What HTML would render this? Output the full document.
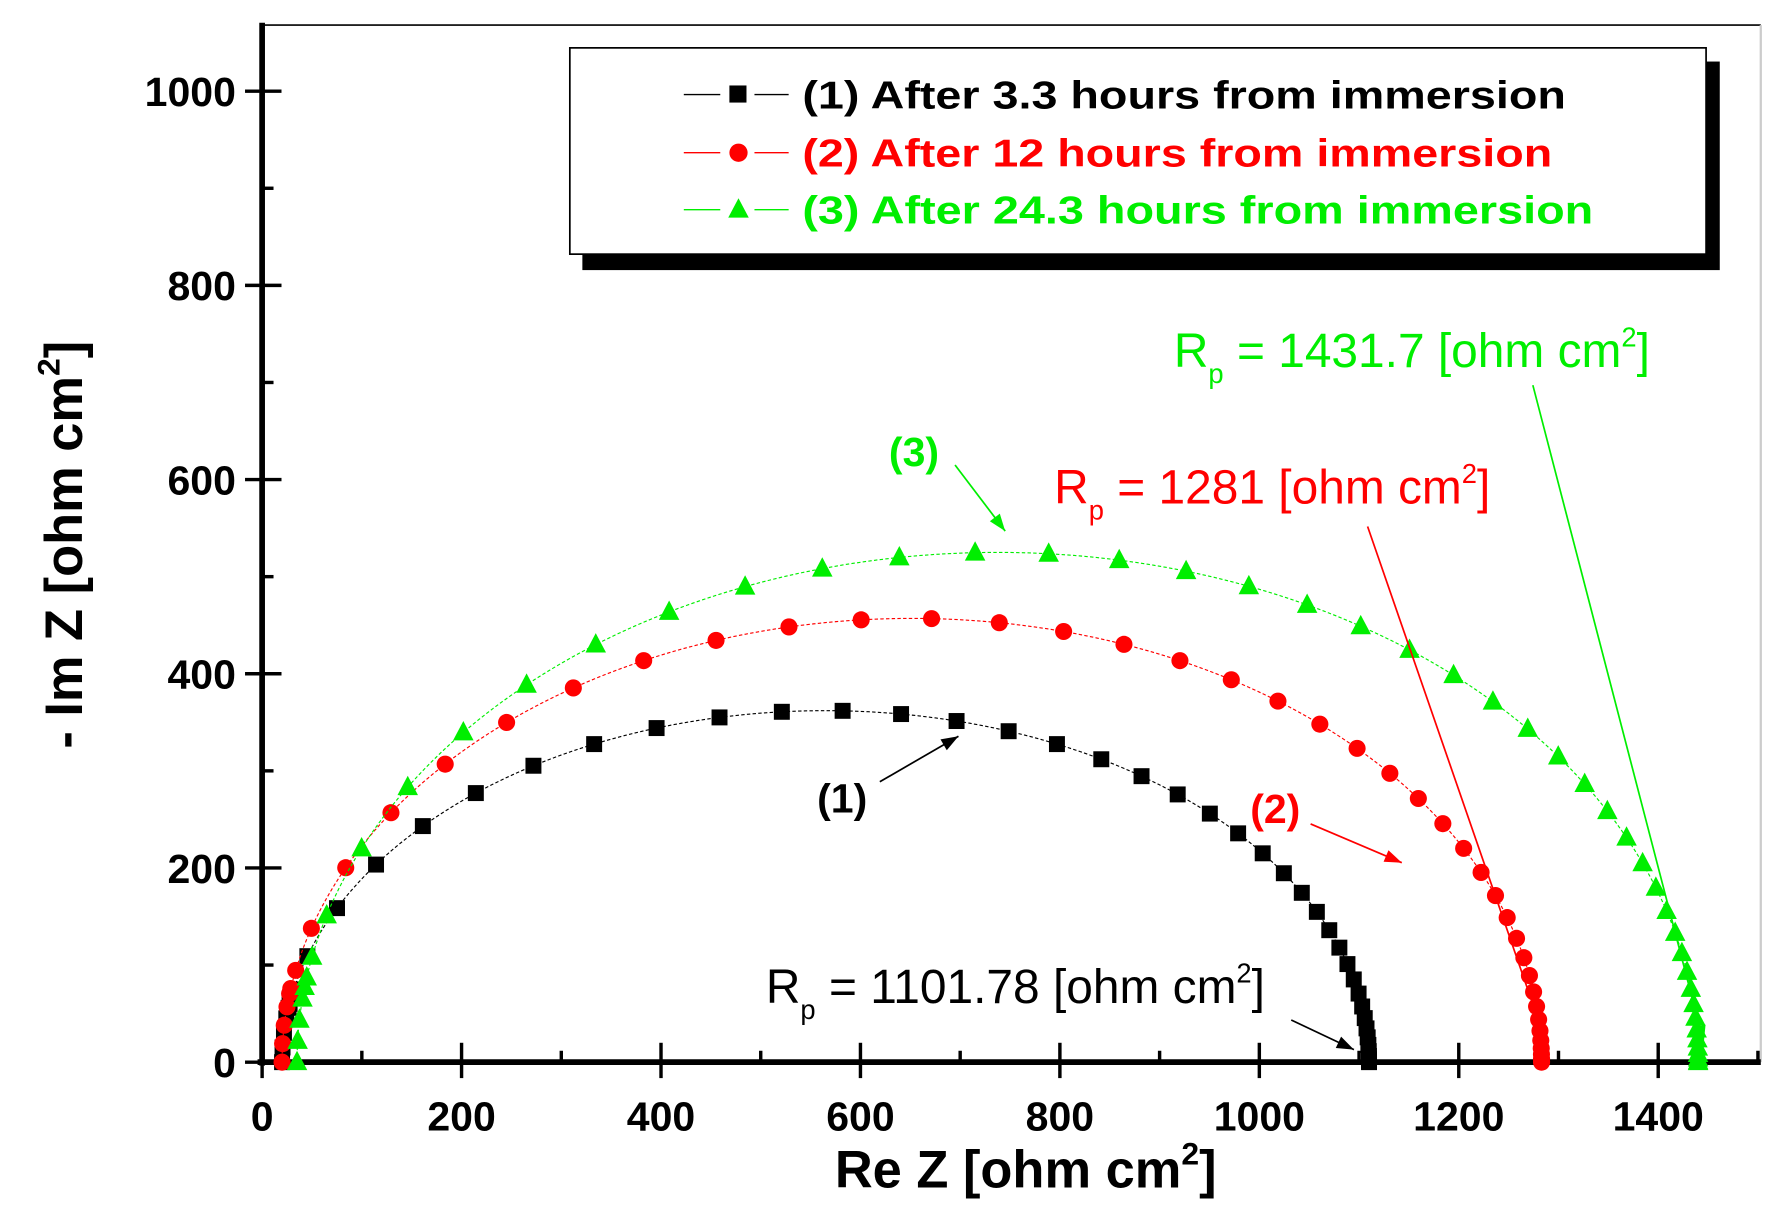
<!DOCTYPE html>
<html><head><meta charset="utf-8"><style>
html,body{margin:0;padding:0;background:#fff;}
svg{display:block;}
text{font-family:"Liberation Sans",Arial,sans-serif;}
</style></head><body>
<svg id="s" width="1787" height="1216" viewBox="0 0 1568 1067" preserveAspectRatio="none" xmlns="http://www.w3.org/2000/svg">
<rect width="1568" height="1067" fill="#fff"/>
<line x1="230" y1="22" x2="1545" y2="22" stroke="#000" stroke-width="1.5"/>
<line x1="1545" y1="22" x2="1545" y2="932" stroke="#ccc" stroke-width="2"/>
<g id="axes"></g>
<g id="data"></g>
<!-- legend -->
<rect x="511" y="54" width="998" height="183" fill="#000"/>
<rect x="500" y="42" width="997" height="181" fill="#fff" stroke="#000" stroke-width="1.5"/>
<g font-size="34" font-weight="bold">
<line x1="600" y1="83" x2="632" y2="83" stroke="#000" stroke-width="1.2"/><line x1="662" y1="83" x2="692" y2="83" stroke="#000" stroke-width="1.2"/><rect x="640" y="75" width="15" height="15" fill="#000"/>
<text x="704" y="95" fill="#000" textLength="670" lengthAdjust="spacingAndGlyphs">(1) After 3.3 hours from immersion</text>
<line x1="600" y1="134" x2="632" y2="134" stroke="#f00" stroke-width="1.2"/><line x1="662" y1="134" x2="692" y2="134" stroke="#f00" stroke-width="1.2"/><circle cx="648" cy="134" r="8" fill="#f00"/>
<text x="704" y="146" fill="#f00" textLength="658" lengthAdjust="spacingAndGlyphs">(2) After 12 hours from immersion</text>
<line x1="600" y1="184" x2="632" y2="184" stroke="#0e0" stroke-width="1.2"/><line x1="662" y1="184" x2="692" y2="184" stroke="#0e0" stroke-width="1.2"/><polygon points="648,174 639,191 657,191" fill="#0e0"/>
<text x="704" y="196" fill="#0e0" textLength="694" lengthAdjust="spacingAndGlyphs">(3) After 24.3 hours from immersion</text>
</g>
<!-- annotations -->
<g font-size="42">
<text x="1030" y="322" fill="#0e0">R<tspan font-size="24" dy="14">p</tspan><tspan dy="-14"> = 1431.7 [ohm cm</tspan><tspan font-size="24" dy="-18">2</tspan><tspan dy="18">]</tspan></text>
<text x="925" y="442" fill="#f00">R<tspan font-size="24" dy="14">p</tspan><tspan dy="-14"> = 1281 [ohm cm</tspan><tspan font-size="24" dy="-18">2</tspan><tspan dy="18">]</tspan></text>
<text x="672" y="880" fill="#000">R<tspan font-size="24" dy="14">p</tspan><tspan dy="-14"> = 1101.78 [ohm cm</tspan><tspan font-size="24" dy="-18">2</tspan><tspan dy="18">]</tspan></text>
</g>
<g font-size="36" font-weight="bold">
<text x="780" y="409" fill="#0e0">(3)</text>
<text x="717" y="713" fill="#000">(1)</text>
<text x="1097" y="722" fill="#f00">(2)</text>
</g>
<g stroke-width="1.5">
<line x1="1345" y1="338" x2="1495" y2="915" stroke="#0e0"/>
<line x1="1200" y1="462" x2="1355" y2="910" stroke="#f00"/>
<line x1="838" y1="408" x2="882" y2="466" stroke="#0e0"/>
<line x1="772" y1="686" x2="841" y2="646" stroke="#000"/>
<line x1="1150" y1="723" x2="1230" y2="757" stroke="#f00"/>
<line x1="1133" y1="895" x2="1188" y2="921" stroke="#000"/>
</g>
<g id="arrows"></g>
<!-- axis titles -->
<text x="900" y="1042" font-size="46" font-weight="bold" text-anchor="middle">Re Z [ohm cm<tspan font-size="28" dy="-20">2</tspan><tspan dy="20">]</tspan></text>
<text transform="translate(72,478) rotate(-90)" font-size="46" font-weight="bold" text-anchor="middle">- Im Z [ohm cm<tspan font-size="28" dy="-20">2</tspan><tspan dy="20">]</tspan></text>
</svg>
<script>
var NS="http://www.w3.org/2000/svg";
function el(p,t,a){var e=document.createElementNS(NS,t);for(var k in a)e.setAttribute(k,a[k]);p.appendChild(e);return e;}
var ax=document.getElementById('axes');
function X(v){return 230+0.875*v;} function Y(v){return 932-0.852*v;}
el(ax,'line',{x1:230,y1:20,x2:230,y2:935,stroke:'#000','stroke-width':5});
el(ax,'line',{x1:226,y1:932,x2:1545,y2:932,stroke:'#000','stroke-width':5});
for(var v=0;v<=1500;v+=100){var x=X(v);var maj=v%200==0;
 el(ax,'line',{x1:x,y1:maj?946:932,x2:x,y2:maj?915:922,stroke:'#000','stroke-width':3});
 if(maj){var t=el(ax,'text',{x:x,y:992,'font-size':36,'font-weight':'bold','text-anchor':'middle'});t.textContent=v;}}
for(var v=0;v<=1000;v+=100){var y=Y(v);var maj=v%200==0;
 el(ax,'line',{x1:maj?215:230,y1:y,x2:maj?247:240,y2:y,stroke:'#000','stroke-width':3});
 if(maj){var t=el(ax,'text',{x:207,y:y+13,'font-size':36,'font-weight':'bold','text-anchor':'end'});t.textContent=v;}}
var d=document.getElementById('data');
function series(x0,x1,h,col,mk,N){
 var c=(x0+x1)/2,r=(x1-x0)/2,pts=[];
 for(var k=0;k<=N;k++){var u=k/N;var p=Math.PI*Math.pow(u,2);pts.push([X(c+r*Math.cos(p)),Y(h*Math.sin(p))]);}
 for(var k=1;k<6;k++){var p=Math.PI-0.25*k/6;pts.push([X(c+r*Math.cos(p)),Y(h*Math.sin(p))]);}
 var s='';for(var i=0;i<=200;i++){var p=Math.PI*i/200;s+=(i?'L':'M')+X(c+r*Math.cos(p))+','+Y(h*Math.sin(p));}
 el(d,'path',{d:s,fill:'none',stroke:col,'stroke-width':1,'stroke-dasharray':'3,2'});
 pts.forEach(function(q){
  if(mk=='s')el(d,'rect',{x:q[0]-7,y:q[1]-7,width:14,height:14,fill:col});
  else if(mk=='c')el(d,'circle',{cx:q[0],cy:q[1],r:7.5,fill:col});
  else el(d,'polygon',{points:q[0]+','+(q[1]-10)+' '+(q[0]-9)+','+(q[1]+7)+' '+(q[0]+9)+','+(q[1]+7),fill:col});
 });
}
series(20,1110,362,'#000','s',40);
series(20,1283,457,'#f00','c',40);
series(35,1440,525,'#0e0','t',42);
var ar=document.getElementById('arrows');
function head(x1,y1,x2,y2,col){var a=Math.atan2(y2-y1,x2-x1),L=16,w=0.35;
 el(ar,'polygon',{points:x2+','+y2+' '+(x2-L*Math.cos(a-w))+','+(y2-L*Math.sin(a-w))+' '+(x2-L*Math.cos(a+w))+','+(y2-L*Math.sin(a+w)),fill:col});}
head(1345,338,1495,915,'#0e0');head(1200,462,1355,910,'#f00');head(838,408,882,466,'#0e0');
head(772,686,841,646,'#000');head(1150,723,1230,757,'#f00');head(1133,895,1188,921,'#000');
</script>
</body></html>
